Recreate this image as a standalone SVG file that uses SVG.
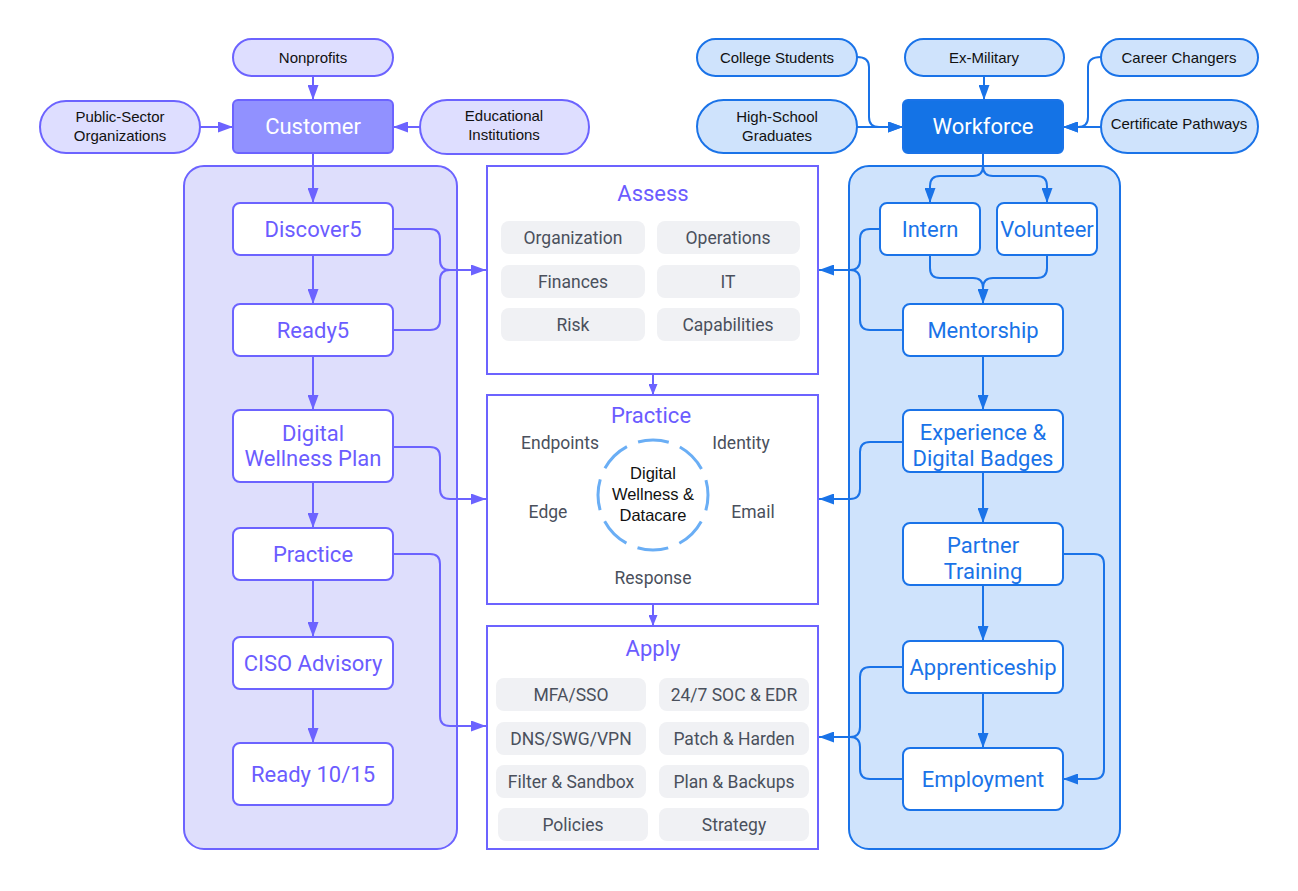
<svg xmlns="http://www.w3.org/2000/svg" width="1298" height="891" viewBox="0 0 1298 891">
<style>
.pl{fill:#dedeff;stroke:#6c63ff;stroke-width:2}
.pb{fill:#cfe3fc;stroke:#1a73e8;stroke-width:2}
.nl{fill:#fff;stroke:#6c63ff;stroke-width:2}
.nb{fill:#fff;stroke:#1a73e8;stroke-width:2}
.box{fill:#fff;stroke:#6c63ff;stroke-width:2}
.chip{fill:#f0f1f4}
.ts{font-family:"Liberation Sans",Arial,sans-serif;font-size:15px;fill:#111;text-anchor:middle}
.tn{font-family:Roboto,"Noto Sans",sans-serif;font-size:22px;text-anchor:middle}
.tl{fill:#6b5cff}
.tb{fill:#1a73e8}
.tw{fill:#fff}
.tc{font-family:Roboto,"Noto Sans",sans-serif;font-size:17.5px;fill:#4a505c;text-anchor:middle}
.cp{fill:none;stroke:#6c63ff;stroke-width:2}
.cb{fill:none;stroke:#1a73e8;stroke-width:2}
</style>
<defs>
<marker id="ap" viewBox="0 0 15 11" refX="15" refY="5.5" markerWidth="15" markerHeight="11" markerUnits="userSpaceOnUse" orient="auto"><path d="M0 0 L15 5.5 L0 11 Z" fill="#6c63ff"/></marker>
<marker id="ab" viewBox="0 0 15 11" refX="15" refY="5.5" markerWidth="15" markerHeight="11" markerUnits="userSpaceOnUse" orient="auto"><path d="M0 0 L15 5.5 L0 11 Z" fill="#1a73e8"/></marker>
<marker id="as" viewBox="0 0 11 9" refX="11" refY="4.5" markerWidth="11" markerHeight="9" markerUnits="userSpaceOnUse" orient="auto"><path d="M0 0 L11 4.5 L0 9 Z" fill="#6c63ff"/></marker>
</defs>
<rect width="1298" height="891" fill="#fff"/>

<g id="customer-container"><rect x="184" y="166" width="273" height="683" rx="20" fill="#dedefc" stroke="#6c63ff" stroke-width="2"/></g>
<g id="workforce-container"><rect x="849" y="166" width="271" height="683" rx="20" fill="#cfe3fc" stroke="#1a73e8" stroke-width="2"/></g>

<g id="connectors">
<path class="cp" d="M313 76 V100" marker-end="url(#ap)"/>
<path class="cp" d="M200 127 H233" marker-end="url(#ap)"/>
<path class="cp" d="M420 127 H393" marker-end="url(#ap)"/>
<path class="cp" d="M313 153 V203" marker-end="url(#ap)"/>
<path class="cp" d="M313 255 V304" marker-end="url(#ap)"/>
<path class="cp" d="M313 356 V410" marker-end="url(#ap)"/>
<path class="cp" d="M313 482 V528" marker-end="url(#ap)"/>
<path class="cp" d="M313 580 V637" marker-end="url(#ap)"/>
<path class="cp" d="M313 689 V743" marker-end="url(#ap)"/>
<path class="cp" d="M393 229 H430 Q440 229 440 239 V260 Q440 270 450 270 H486" marker-end="url(#ap)"/>
<path class="cp" d="M393 330 H430 Q440 330 440 320 V280 Q440 270 450 270"/>
<path class="cp" d="M393 447 H430 Q440 447 440 457 V489 Q440 499 450 499 H486" marker-end="url(#ap)"/>
<path class="cp" d="M393 554 H430 Q440 554 440 564 V716 Q440 726 450 726 H486" marker-end="url(#ap)"/>
<path class="cp" d="M653 374 V395" marker-end="url(#as)"/>
<path class="cp" d="M653 604 V626" marker-end="url(#as)"/>
<path class="cb" d="M857 57 Q869 57 869 67 V117 Q869 127 879 127 H903" marker-end="url(#ab)"/>
<path class="cb" d="M857 127 H903" marker-end="url(#ab)"/>
<path class="cb" d="M984 76 V100" marker-end="url(#ab)"/>
<path class="cb" d="M1101 57 Q1088 57 1088 67 V117 Q1088 127 1078 127 H1063" marker-end="url(#ab)"/>
<path class="cb" d="M1101 127 H1063" marker-end="url(#ab)"/>
<path class="cb" d="M983 153 V166 Q983 176 973 176 H940 Q930 176 930 186 V203" marker-end="url(#ab)"/>
<path class="cb" d="M983 166 Q983 176 993 176 H1037 Q1047 176 1047 186 V203" marker-end="url(#ab)"/>
<path class="cb" d="M930 255 V268 Q930 278 940 278 H973 Q983 278 983 288 V304" marker-end="url(#ab)"/>
<path class="cb" d="M1047 255 V268 Q1047 278 1037 278 H993 Q983 278 983 288"/>
<path class="cb" d="M880 229 H870 Q860 229 860 239 V260 Q860 270 850 270 H819" marker-end="url(#ab)"/>
<path class="cb" d="M903 330 H870 Q860 330 860 320 V280 Q860 270 850 270"/>
<path class="cb" d="M983 356 V410" marker-end="url(#ab)"/>
<path class="cb" d="M903 442 H870 Q860 442 860 452 V489 Q860 499 850 499 H819" marker-end="url(#ab)"/>
<path class="cb" d="M983 472 V523" marker-end="url(#ab)"/>
<path class="cb" d="M983 585 V641" marker-end="url(#ab)"/>
<path class="cb" d="M983 693 V748" marker-end="url(#ab)"/>
<path class="cb" d="M1063 554 H1094 Q1104 554 1104 564 V769 Q1104 779 1094 779 H1063" marker-end="url(#ab)"/>
<path class="cb" d="M903 667 H870 Q860 667 860 677 V727 Q860 737 850 737 H819" marker-end="url(#ab)"/>
<path class="cb" d="M903 779 H870 Q860 779 860 769 V747 Q860 737 850 737"/>
</g>

<g id="nonprofits"><rect class="pl" x="233" y="39" width="160" height="37" rx="18.5"/><text class="ts" x="313" y="63">Nonprofits</text></g>
<g id="public-sector"><rect class="pl" x="40" y="101" width="160" height="52" rx="26"/><text class="ts" x="120" y="122">Public-Sector</text><text class="ts" x="120" y="141">Organizations</text></g>
<g id="educational"><rect class="pl" x="420" y="100" width="169" height="54" rx="27"/><text class="ts" x="504" y="121">Educational</text><text class="ts" x="504" y="140">Institutions</text></g>
<g id="customer"><rect x="233" y="100" width="160" height="53" rx="5" fill="#9191ff" stroke="#6c63ff" stroke-width="2"/><text class="tn tw" x="313" y="134">Customer</text></g>

<g id="discover5"><rect class="nl" x="233" y="203" width="160" height="52" rx="7"/><text class="tn tl" x="313" y="237">Discover5</text></g>
<g id="ready5"><rect class="nl" x="233" y="304" width="160" height="52" rx="7"/><text class="tn tl" x="313" y="338">Ready5</text></g>
<g id="dwp"><rect class="nl" x="233" y="410" width="160" height="72" rx="7"/><text class="tn tl" x="313" y="441">Digital</text><text class="tn tl" x="313" y="466">Wellness Plan</text></g>
<g id="practice-node"><rect class="nl" x="233" y="528" width="160" height="52" rx="7"/><text class="tn tl" x="313" y="562">Practice</text></g>
<g id="ciso"><rect class="nl" x="233" y="637" width="160" height="52" rx="7"/><text class="tn tl" x="313" y="671">CISO Advisory</text></g>
<g id="ready1015"><rect class="nl" x="233" y="743" width="160" height="62" rx="7"/><text class="tn tl" x="313" y="782">Ready 10/15</text></g>

<g id="assess"><rect class="box" x="487" y="166" width="331" height="208"/><text class="tn tl" x="653" y="201">Assess</text>
<rect class="chip" x="501" y="221" width="144" height="33" rx="8"/><text class="tc" x="573" y="244">Organization</text>
<rect class="chip" x="657" y="221" width="143" height="33" rx="8"/><text class="tc" x="728" y="244">Operations</text>
<rect class="chip" x="501" y="265" width="144" height="33" rx="8"/><text class="tc" x="573" y="288">Finances</text>
<rect class="chip" x="657" y="265" width="143" height="33" rx="8"/><text class="tc" x="728" y="288">IT</text>
<rect class="chip" x="501" y="308" width="144" height="33" rx="8"/><text class="tc" x="573" y="331">Risk</text>
<rect class="chip" x="657" y="308" width="143" height="33" rx="8"/><text class="tc" x="728" y="331">Capabilities</text></g>

<g id="practice"><rect class="box" x="487" y="395" width="331" height="209"/><text class="tn tl" x="651" y="423">Practice</text>
<text class="tc" x="560" y="449">Endpoints</text><text class="tc" x="741" y="449">Identity</text>
<text class="tc" x="548" y="518">Edge</text><text class="tc" x="753" y="518">Email</text>
<text class="tc" x="653" y="584">Response</text>
<circle cx="653" cy="495" r="55" fill="none" stroke="#6aaef5" stroke-width="3" stroke-dasharray="31.2 12" stroke-dashoffset="15.6"/>
<text class="ts" x="653" y="479" style="font-size:16.5px">Digital</text><text class="ts" x="653" y="500" style="font-size:16.5px">Wellness &amp;</text><text class="ts" x="653" y="521" style="font-size:16.5px">Datacare</text></g>

<g id="apply"><rect class="box" x="487" y="626" width="331" height="223"/><text class="tn tl" x="653" y="656">Apply</text>
<rect class="chip" x="496" y="678" width="150" height="33" rx="8"/><text class="tc" x="571" y="701">MFA/SSO</text>
<rect class="chip" x="659" y="678" width="150" height="33" rx="8"/><text class="tc" x="734" y="701">24/7 SOC &amp; EDR</text>
<rect class="chip" x="496" y="722" width="150" height="33" rx="8"/><text class="tc" x="571" y="745">DNS/SWG/VPN</text>
<rect class="chip" x="659" y="722" width="150" height="33" rx="8"/><text class="tc" x="734" y="745">Patch &amp; Harden</text>
<rect class="chip" x="496" y="765" width="150" height="33" rx="8"/><text class="tc" x="571" y="788">Filter &amp; Sandbox</text>
<rect class="chip" x="659" y="765" width="150" height="33" rx="8"/><text class="tc" x="734" y="788">Plan &amp; Backups</text>
<rect class="chip" x="498" y="808" width="150" height="33" rx="8"/><text class="tc" x="573" y="831">Policies</text>
<rect class="chip" x="659" y="808" width="150" height="33" rx="8"/><text class="tc" x="734" y="831">Strategy</text></g>

<g id="college"><rect class="pb" x="697" y="39" width="160" height="37" rx="18.5"/><text class="ts" x="777" y="63">College Students</text></g>
<g id="exmilitary"><rect class="pb" x="905" y="39" width="159" height="37" rx="18.5"/><text class="ts" x="984" y="63">Ex-Military</text></g>
<g id="career"><rect class="pb" x="1101" y="39" width="157" height="37" rx="18.5"/><text class="ts" x="1179" y="63">Career Changers</text></g>
<g id="highschool"><rect class="pb" x="697" y="100" width="160" height="53" rx="26.5"/><text class="ts" x="777" y="122">High-School</text><text class="ts" x="777" y="141">Graduates</text></g>
<g id="certificate"><rect class="pb" x="1101" y="100" width="157" height="53" rx="26.5"/><text class="ts" x="1179" y="129">Certificate Pathways</text></g>
<g id="workforce"><rect x="903" y="100" width="160" height="53" rx="5" fill="#1473e6" stroke="#1a73e8" stroke-width="2"/><text class="tn tw" x="983" y="134">Workforce</text></g>

<g id="intern"><rect class="nb" x="880" y="203" width="100" height="52" rx="7"/><text class="tn tb" x="930" y="237">Intern</text></g>
<g id="volunteer"><rect class="nb" x="997" y="203" width="100" height="52" rx="7"/><text class="tn tb" x="1047" y="237">Volunteer</text></g>
<g id="mentorship"><rect class="nb" x="903" y="304" width="160" height="52" rx="7"/><text class="tn tb" x="983" y="338">Mentorship</text></g>
<g id="experience"><rect class="nb" x="903" y="410" width="160" height="62" rx="7"/><text class="tn tb" x="983" y="440">Experience &amp;</text><text class="tn tb" x="983" y="466">Digital Badges</text></g>
<g id="partner"><rect class="nb" x="903" y="523" width="160" height="62" rx="7"/><text class="tn tb" x="983" y="553">Partner</text><text class="tn tb" x="983" y="579">Training</text></g>
<g id="apprenticeship"><rect class="nb" x="903" y="641" width="160" height="52" rx="7"/><text class="tn tb" x="983" y="675">Apprenticeship</text></g>
<g id="employment"><rect class="nb" x="903" y="748" width="160" height="62" rx="7"/><text class="tn tb" x="983" y="787">Employment</text></g>
</svg>
